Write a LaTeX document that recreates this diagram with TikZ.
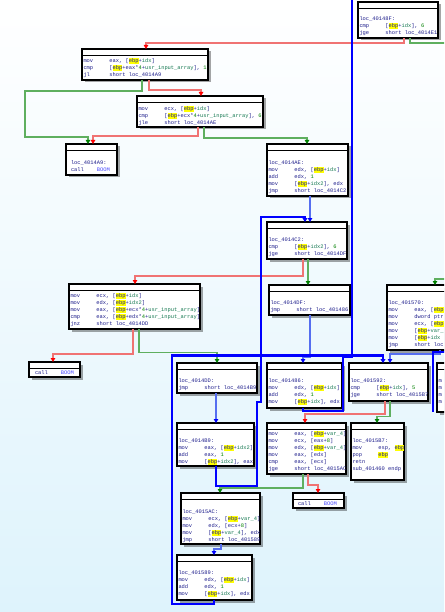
\documentclass[tikz,border=0pt]{standalone}
\usepackage{fontspec}
\setmonofont{Liberation Mono}
\usetikzlibrary{arrows.meta,shadows,calc}
\definecolor{bgb}{RGB}{222,243,252}
\definecolor{navyT}{RGB}{30,30,140}
\definecolor{varc}{RGB}{20,120,80}
\definecolor{numc}{RGB}{0,128,0}
\definecolor{boomc}{RGB}{70,70,255}
\definecolor{hly}{RGB}{255,255,0}
\definecolor{redL}{RGB}{240,115,115}
\definecolor{redA}{RGB}{255,0,0}
\definecolor{grnL}{RGB}{95,175,95}
\definecolor{grnA}{RGB}{0,128,0}
\definecolor{bluL}{RGB}{85,110,240}
\definecolor{bluA}{RGB}{0,0,255}
\newcommand\mn[1]{\makebox[25.92pt][l]{#1}}
\newcommand\hb{\makebox[0pt][l]{\textcolor{hly}{\rule[-1.5pt]{9.72pt}{6.2pt}}}ebp}
\newcommand\vr[1]{\textcolor{varc}{#1}}
\newcommand\nm[1]{\textcolor{numc}{#1}}
\newcommand\bm{\textcolor{boomc}{BOOM}}
\newcommand\hdr[1]{\draw[hdrline] ($(#1.north west)+(0,6.5)$) -- ($(#1.north east)+(0,6.5)$);}
\begin{document}
\begin{tikzpicture}[x=1pt,y=-1pt,
  blk/.style={draw=black, line width=1.2pt, fill=white, anchor=north west, inner sep=0pt, outer sep=0pt,
    drop shadow={opacity=0.35, fill=black, shadow xshift=2.5pt, shadow yshift=-2.5pt}},
  hdrline/.style={draw=black, line width=1pt},
  txt/.style={anchor=north west, inner sep=0pt, outer sep=0pt, align=left, text=navyT,
    font=\fontsize{5.4pt}{7pt}\selectfont\ttfamily},
  redE/.style={draw=redL, line width=1.8pt, -{Triangle[length=4pt,width=4.5pt,color=redA]}},
  grnE/.style={draw=grnL, line width=1.8pt, -{Triangle[length=4pt,width=4.5pt,color=grnA]}},
  grnN/.style={draw=grnL, line width=1.8pt},
  bluE/.style={draw=bluL, line width=1.6pt, -{Triangle[length=4pt,width=4.5pt,color=bluA]}},
  bkE/.style={draw=bluA, line width=2.8pt, -{Triangle[length=4pt,width=5pt,color=bluA]}},
  bkN/.style={draw=bluA, line width=2.8pt}]
\useasboundingbox (0,0) rectangle (444,612);
\clip (0,0) rectangle (444,612);
\shade[top color=white, bottom color=bgb] (0,0) rectangle (444,612);

% ---------- blocks ----------
\node[blk, minimum width=80pt, minimum height=36pt] (b0) at (358,2) {};
\node[blk, minimum width=126pt, minimum height=31pt] (b1) at (82,49) {};
\node[blk, minimum width=126pt, minimum height=31pt] (b2) at (137,96) {};
\node[blk, minimum width=51pt, minimum height=31pt] (bA9) at (66,144) {};
\node[blk, minimum width=81pt, minimum height=52pt] (bAE) at (267,144) {};
\node[blk, minimum width=80pt, minimum height=37pt] (bC2) at (267,222) {};
\node[blk, minimum width=131pt, minimum height=45pt] (bBig) at (69,284) {};
\node[blk, minimum width=81pt, minimum height=30pt] (bDF) at (269,285) {};
\node[blk, minimum width=80pt, minimum height=65pt] (b570) at (387,285) {};
\node[blk, minimum width=51pt, minimum height=15pt] (bM1) at (29,362) {};
\node[blk, minimum width=80pt, minimum height=30pt] (bDD) at (177,363) {};
\node[blk, minimum width=75pt, minimum height=45pt] (b486) at (267,363) {};
\node[blk, minimum width=79pt, minimum height=38pt] (b592) at (349,363) {};
\node[blk, minimum width=40pt, minimum height=49pt] (bR) at (437,363) {};
\node[blk, minimum width=77pt, minimum height=43pt] (bB9) at (177,423) {};
\node[blk, minimum width=79pt, minimum height=51pt] (bMid) at (267,423) {};
\node[blk, minimum width=53pt, minimum height=57pt] (bB7) at (351,423) {};
\node[blk, minimum width=51pt, minimum height=15pt] (bM2) at (293,493) {};
\node[blk, minimum width=79pt, minimum height=51pt] (bAC) at (181,493) {};
\node[blk, minimum width=75pt, minimum height=45pt] (b589) at (177,555) {};
\foreach \n in {b0,b1,b2,bA9,bAE,bC2,bBig,bDF,b570,bM1,bDD,b486,b592,bR,bB9,bMid,bB7,bM2,bAC,b589}{\hdr{\n}}

% ---------- texts ----------
\node[txt] (b0t) at (359.5,15.9) {\strut loc\_40148F:\\\mn{cmp}[\hb+\vr{idx}], \nm{6}\\\mn{jge}short loc\_4014E1};
\node[txt] (b1t) at (83.5,57.9) {\strut\mn{mov}eax, [\hb+\vr{idx}]\\\mn{cmp}[\hb+eax*\nm{4}+\vr{usr\_input\_array}], \nm{1}\\\mn{jl}short loc\_4014A9};
\node[txt] (b2t) at (138.5,105.9) {\strut\mn{mov}ecx, [\hb+\vr{idx}]\\\mn{cmp}[\hb+ecx*\nm{4}+\vr{usr\_input\_array}], \nm{6}\\\mn{jle}short loc\_4014AE};
\node[txt] (bA9t) at (71,159.9) {\strut loc\_4014A9:\\\mn{call}\bm};
\node[txt] (bAEt) at (268.5,159.9) {\strut loc\_4014AE:\\\mn{mov}edx, [\hb+\vr{idx}]\\\mn{add}edx, \nm{1}\\\mn{mov}[\hb+\vr{idx2}], edx\\\mn{jmp}short loc\_4014C2};
\node[txt] (bC2t) at (268.5,236.9) {\strut loc\_4014C2:\\\mn{cmp}[\hb+\vr{idx2}], \nm{6}\\\mn{jge}short loc\_4014DF};
\node[txt] (bBigt) at (70.5,292.9) {\strut\mn{mov}ecx, [\hb+\vr{idx}]\\\mn{mov}edx, [\hb+\vr{idx2}]\\\mn{mov}eax, [\hb+ecx*\nm{4}+\vr{usr\_input\_array}]\\\mn{cmp}eax, [\hb+edx*\nm{4}+\vr{usr\_input\_array}]\\\mn{jnz}short loc\_4014DD};
\node[txt] (bDFt) at (270.5,299.9) {\strut loc\_4014DF:\\\mn{jmp}short loc\_401486};
\node[txt] (b570t) at (388.5,299.9) {\strut loc\_401570:\\\mn{mov}eax, [\hb\\\mn{mov}dword ptr\\\mn{mov}ecx, [\hb\\\mn{mov}[\hb+\vr{var\_}\\\mn{mov}[\hb+\vr{idx}\\\mn{jmp}short loc};
\node[txt] (bM1t) at (35,369.9) {\strut\mn{call}\bm};
\node[txt] (bDDt) at (178.5,377.9) {\strut loc\_4014DD:\\\mn{jmp}short loc\_4014B9};
\node[txt] (b486t) at (268.5,377.9) {\strut loc\_401486:\\\mn{mov}edx, [\hb+\vr{idx}]\\\mn{add}edx, \nm{1}\\\mn{mov}[\hb+\vr{idx}], edx};
\node[txt] (b592t) at (350.5,377.9) {\strut loc\_401592:\\\mn{cmp}[\hb+\vr{idx}], \nm{5}\\\mn{jge}short loc\_4015B7};
\node[txt] (bRt) at (438.5,377.9) {\strut m\\m\\m\\m};
\node[txt] (bB9t) at (178.5,437.9) {\strut loc\_4014B9:\\\mn{mov}eax, [\hb+\vr{idx2}]\\\mn{add}eax, \nm{1}\\\mn{mov}[\hb+\vr{idx2}], eax};
\node[txt] (bMidt) at (268.5,430.9) {\strut\mn{mov}eax, [\hb+\vr{var\_4}]\\\mn{mov}ecx, [eax+\nm{8}]\\\mn{mov}edx, [\hb+\vr{var\_4}]\\\mn{mov}eax, [edx]\\\mn{cmp}eax, [ecx]\\\mn{jge}short loc\_4015AC};
\node[txt] (bB7t) at (352.5,437.9) {\strut loc\_4015B7:\\\mn{mov}esp, \hb\\\mn{pop}\hb\\\mn{retn}\\sub\_401460 endp};
\node[txt] (bM2t) at (298,500.9) {\strut\mn{call}\bm};
\node[txt] (bACt) at (182.5,508.9) {\strut loc\_4015AC:\\\mn{mov}ecx, [\hb+\vr{var\_4}]\\\mn{mov}edx, [ecx+\nm{8}]\\\mn{mov}[\hb+\vr{var\_4}], edx\\\mn{jmp}short loc\_401589};
\node[txt] (b589t) at (178.5,569.9) {\strut loc\_401589:\\\mn{mov}edx, [\hb+\vr{idx}]\\\mn{add}edx, \nm{1}\\\mn{mov}[\hb+\vr{idx}], edx};

% ---------- connectors ----------
\coordinate (offA) at (450,43);
\coordinate (offB) at (450,279);
\coordinate (offC) at (450,352);
\coordinate (topL3) at (352,-4);
\draw[redE] (404,0 |- b0.south) |- (146,43) -- (146,0 |- b1.north);
\draw[grnN] (410,0 |- b0.south) |- (offA);
\draw[grnE] (offB) -| (435,0 |- b570.north);
\draw[grnE] (142,0 |- b1.south) -- (142,91) -- (25,91) -- (25,137) -- (88,137) -- (88,0 |- bA9.north);
\draw[redE] (149,0 |- b1.south) -- (149,90) -- (201,90) -- (201,0 |- b2.north);
\draw[redE] (198,0 |- b2.south) -- (198,136) -- (93,136) -- (93,0 |- bA9.north);
\draw[grnE] (204,0 |- b2.south) -- (204,138) -- (307,138) -- (307,0 |- bAE.north);
\draw[bluE] (310,0 |- bAE.south) -- (310,0 |- bC2.north);
\draw[redE] (303,0 |- bC2.south) -- (303,276) -- (135,276) -- (135,0 |- bBig.north);
\draw[grnE] (308,0 |- bC2.south) -- (308,0 |- bDF.north);
\draw[bluE] (310,0 |- bDF.south) -- (310,357) -- (303,357) -- (303,0 |- b486.north);
\draw[redE] (133,0 |- bBig.south) -- (133,354) -- (53,354) -- (53,0 |- bM1.north);
\draw[grnE] (139,0 |- bBig.south) -- (139,352.5) -- (217,352.5) -- (217,0 |- bDD.north);
\draw[bluE] (216,0 |- bDD.south) -- (216,0 |- bB9.north);
\draw[redE] (385,0 |- b592.south) -- (385,414) -- (305,414) -- (305,0 |- bMid.north);
\draw[grnE] (390,0 |- b592.south) -- (390,416.5) -- (377,416.5) -- (377,0 |- bB7.north);
\draw[grnE] (303,0 |- bMid.south) -- (303,488) -- (220,488) -- (220,0 |- bAC.north);
\draw[redE] (308,0 |- bMid.south) -- (308,485) -- (318,485) -- (318,0 |- bM2.north);
\draw[bluE] (221,0 |- bAC.south) -- (221,549) -- (214,549) -- (214,0 |- b589.north);
\draw[bluE] (440,0 |- b570.south) -- (440,354) -- (390,354) -- (390,0 |- b592.north);
\draw[bkE] (216,0 |- bB9.south) -- (216,486) -- (257,486) -- (257,402) -- (261,402) -- (261,217) -- (305,217) -- (305,0 |- bC2.north);
\draw[bkE] (214,0 |- b589.south) -- (214,604) -- (172,604) -- (172,355.5) -- (383,355.5) -- (383,0 |- b592.north);
\draw[bkN] (303,0 |- b486.south) -- (303,411) -- (343,411) -- (343,357) -- (352,357) -- (topL3);
\draw[bkN] (offC) -- (433,352) -- (433,412);
\end{tikzpicture}
\end{document}
